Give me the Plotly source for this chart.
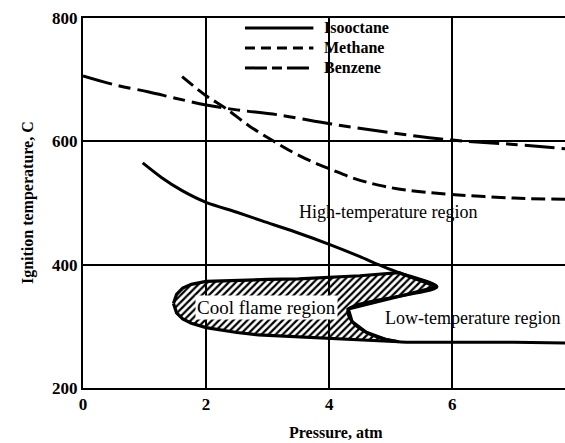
import plotly.graph_objects as go

# ---- data ----
benzene_p = [0.0, 0.5, 1.07, 1.5, 2.0, 2.5, 3.17, 4.04, 5.0, 6.0, 7.0, 7.83]
benzene_t = [706, 692, 680, 670, 659, 651, 643, 628, 614, 602, 595, 588]

methane_p = [1.61, 2.0, 2.31, 2.7, 3.1, 3.34, 3.7, 4.04, 4.4, 4.8, 5.24, 5.97, 7.0, 7.83]
methane_t = [705, 674, 654, 625, 600, 586, 568, 554, 540, 529, 521, 514, 508, 506]

isooctane_p = [0.97, 1.28, 1.61, 2.0, 2.5, 2.91, 3.45, 4.0, 4.5, 4.8, 5.13, 5.75,
               4.31, 4.37, 4.59, 4.91, 5.13, 6.0, 7.0, 7.83]
isooctane_t = [565, 541, 520, 501, 485, 471, 453, 433, 413, 400, 387, 364,
               328, 308, 291, 279, 275, 274, 274, 273]

coolflame_p = [1.47, 1.52, 1.62, 1.76, 2.0, 2.5, 3.0, 3.5, 4.0, 4.5, 5.13, 5.75,
               4.31, 4.37, 4.59, 4.91, 5.13, 4.5, 4.0, 3.5, 2.85, 2.5, 2.0, 1.76,
               1.62, 1.52, 1.47]
coolflame_t = [337, 352, 362, 368, 373, 375, 376, 377, 379, 382, 387, 364,
               328, 308, 291, 279, 275, 278, 281, 283, 286, 290, 298, 305,
               312, 322, 337]

x_ticks = [0, 2, 4, 6]
y_ticks = [200, 400, 600, 800]
legend_names = ["Isooctane", "Methane", "Benzene"]

FONT = "Liberation Serif"

fig = go.Figure()

fig.add_trace(go.Scatter(
    x=coolflame_p, y=coolflame_t, mode="lines", fill="toself",
    fillcolor="rgba(0,0,0,0)",
    fillpattern=dict(shape="/", size=5, solidity=0.45, fgcolor="black",
                     bgcolor="rgba(0,0,0,0)", fillmode="replace"),
    line=dict(color="black", width=3.2), hoverinfo="skip", showlegend=False))

fig.add_trace(go.Scatter(x=isooctane_p, y=isooctane_t, mode="lines", name="Isooctane",
                         line=dict(color="black", width=3, shape="spline", smoothing=0.8),
                         showlegend=False))
fig.add_trace(go.Scatter(x=methane_p, y=methane_t, mode="lines", name="Methane",
                         line=dict(color="black", width=3, dash="14px,6px", shape="spline"),
                         showlegend=False))
fig.add_trace(go.Scatter(x=benzene_p, y=benzene_t, mode="lines", name="Benzene",
                         line=dict(color="black", width=3, dash="30px,7px,12px,7px", shape="spline"),
                         showlegend=False))

# custom legend
leg_dash = ["solid", "10px,6px", "22px,5px,10px,5px"]
leg_y = [0.973, 0.919, 0.865]
for name, d, yy in zip(legend_names, leg_dash, leg_y):
    fig.add_shape(type="line", xref="paper", yref="paper", x0=0.336, x1=0.478, y0=yy, y1=yy,
                  line=dict(color="black", width=3, dash=d))
    fig.add_annotation(xref="paper", yref="paper", x=0.495, y=yy, text=name, showarrow=False,
                       xanchor="left", yanchor="middle",
                       font=dict(family=FONT, size=16, color="black", weight="bold"))

fig.add_annotation(x=4.95, y=486, text="High-temperature region", showarrow=False,
                   font=dict(family=FONT, size=18, color="black"))
fig.add_annotation(x=2.98, y=331, text="Cool flame region", showarrow=False,
                   bgcolor="white", borderpad=1,
                   font=dict(family=FONT, size=19, color="black"))
fig.add_annotation(x=4.88, y=313, text="Low-temperature region", showarrow=False,
                   xanchor="left", font=dict(family=FONT, size=18, color="black"))

# axis titles
fig.add_annotation(xref="paper", yref="paper", x=0.525, y=-0.119, text="Pressure, atm",
                   showarrow=False, yanchor="middle",
                   font=dict(family=FONT, size=16, color="black", weight="bold"))
fig.add_annotation(xref="paper", yref="paper", x=-0.114, y=0.5, text="Ignition temperature, C",
                   showarrow=False, textangle=-90, xanchor="center", yanchor="middle",
                   font=dict(family=FONT, size=16, color="black", weight="bold"))

fig.update_xaxes(range=[0, 7.83], tickvals=x_ticks, ticktext=[str(v) for v in x_ticks],
                 showgrid=True, gridcolor="black", gridwidth=1.8,
                 showline=True, linecolor="black", linewidth=2, mirror=True,
                 zeroline=False, ticks="", automargin=False,
                 tickfont=dict(family=FONT, size=17, color="black", weight="bold"))
fig.update_yaxes(range=[200, 800], tickvals=y_ticks, ticktext=[str(v) for v in y_ticks],
                 showgrid=True, gridcolor="black", gridwidth=1.8,
                 showline=True, linecolor="black", linewidth=2, mirror=False,
                 zeroline=False, ticks="", automargin=False,
                 tickfont=dict(family=FONT, size=17, color="black", weight="bold"))

fig.update_layout(width=565, height=443, margin=dict(l=83, r=0, t=18, b=55, autoexpand=False),
                  plot_bgcolor="white", paper_bgcolor="white", showlegend=False)

fig.write_html("out.html", config={"displayModeBar": False},
               post_script="document.body.style.margin='0';document.body.style.padding='0';")
